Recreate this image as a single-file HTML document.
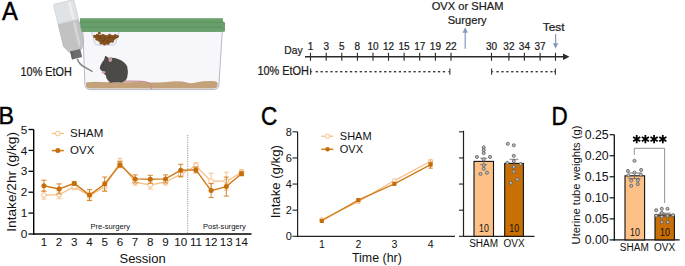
<!DOCTYPE html>
<html><head><meta charset="utf-8"><style>
html,body{margin:0;padding:0;background:#fff;width:685px;height:266px;overflow:hidden}
svg{display:block}
text{font-family:"Liberation Sans", sans-serif}
.pa text{stroke:#1a1a1a;stroke-width:0.22px}
</style></head><body>
<svg width="685" height="266" viewBox="0 0 685 266" font-family='"Liberation Sans", sans-serif'>
<g class="pa">
<text x="2.1" y="20" font-size="25" fill="#000" style="stroke:#000;stroke-width:0.45px" textLength="15.9" lengthAdjust="spacingAndGlyphs">A</text>
<path d="M82.8 31 L84.9 84.6 Q85.2 89.6 90.2 89.6 L213.8 89.6 Q218.6 89.6 218.9 84.6 L222.3 31 Z" fill="#f7f7fb" stroke="#a9b3c5" stroke-width="0.9"/>
<path d="M86 82.6 Q92 81.6 100 81.9 Q112 82.6 125 82.3 Q140 81.7 152 82.4 Q162 82.7 172 81.4 Q182 81 188 82.8 Q192 83.7 197 82.2 Q203 81 212 81.1 Q217.2 81.1 217.6 83.2 L217.6 85.5 Q217.3 88.4 213.5 88.4 L90 88.4 Q86.2 88.4 86 85.5 Z" fill="#c3a17a"/>
<path d="M91.2 31 L119.4 31 L115.5 43.5 Q115 45 113.5 45 L97 45 Q95.5 45 95 43.5 Z" fill="#eef1f7" stroke="#b8c2d4" stroke-width="0.8"/>
<path d="M93.8 35.6 Q96 34.2 99 35 Q103 34 107 35.2 Q111 34.4 114.5 35.4 Q117.5 35 118.6 36.6 Q118 38.6 115.5 39 Q113.5 41.5 111 42.6 Q108 44.8 104.5 44.6 Q101.5 44.4 99.5 42.2 Q96.5 40.4 95.5 38.6 Q93.2 37.8 93.8 35.6 Z" fill="#83501f"/>
<circle cx="99.3" cy="32.9" r="1.5" fill="#83501f"/>
<circle cx="94.6" cy="36.3" r="1.5" fill="#83501f"/>
<circle cx="97.3" cy="35.2" r="1.4" fill="#83501f"/>
<circle cx="117.6" cy="36.4" r="1.4" fill="#83501f"/>
<circle cx="115.2" cy="35.2" r="1.3" fill="#83501f"/>
<circle cx="103" cy="35.4" r="1.3" fill="#83501f"/>
<circle cx="109.5" cy="35.1" r="1.3" fill="#83501f"/>
<circle cx="101" cy="43.2" r="1.3" fill="#83501f"/>
<circle cx="108" cy="43.6" r="1.4" fill="#83501f"/>
<circle cx="104.5" cy="44.3" r="1.3" fill="#83501f"/>
<circle cx="112.5" cy="41.4" r="1.3" fill="#83501f"/>
<circle cx="96.8" cy="39.3" r="1.3" fill="#83501f"/>
<circle cx="100.5" cy="37.5" r="0.9" fill="#6f4018"/>
<circle cx="105" cy="38.5" r="0.9" fill="#6f4018"/>
<circle cx="109.6" cy="37.4" r="0.9" fill="#6f4018"/>
<circle cx="103" cy="41" r="0.9" fill="#6f4018"/>
<circle cx="107.4" cy="41.2" r="0.9" fill="#6f4018"/>
<circle cx="113.5" cy="37.8" r="0.9" fill="#6f4018"/>
<circle cx="98.2" cy="36.2" r="0.9" fill="#6f4018"/>
<rect x="80" y="18.2" width="142.9" height="4" fill="#69a06c"/>
<rect x="79.3" y="22" width="145.7" height="9.7" rx="1.2" fill="#679e6a"/>
<rect x="80" y="27.2" width="142.9" height="4.5" fill="#69a06c"/>
<rect x="80" y="21.6" width="144" height="0.9" fill="#5a9160"/>
<rect x="80" y="26.9" width="142.6" height="0.9" fill="#5a9160"/>
<path d="M124 81.2 Q134 80.8 142 81.4 Q149 82 150.5 84.5 Q151.5 86.5 151.6 89.2" fill="none" stroke="#c38f90" stroke-width="1.3"/>
<path d="M105.4 55.8 Q107.2 56.6 108.6 58 Q113.5 57.2 118 59 Q124.5 61 127.2 66.5 Q128.6 72 127.3 77 Q126.2 81.2 122 82.3 L111.2 82.4 Q108 81.6 106.6 78.6 Q106 76.6 105.8 75.2 Q103.6 74.2 102.6 71.6 Q100.6 70.4 99.8 68.4 Q99.8 66.2 101.2 64 Q102.6 61.2 104.2 59.6 Q104.6 57.2 105.4 55.8 Z" fill="#4c4949"/>
<path d="M108.3 58.3 Q109.8 56.4 111.8 57.4 Q112.8 59.6 111.2 61.8 Q109.6 62.6 108.8 61.2 Z" fill="#c89b9a"/>
<ellipse cx="103.6" cy="72.2" rx="1.8" ry="1.2" fill="#d6a7a6"/>
<path d="M100 67.5 L98.6 67.4 M100 68.2 L98.8 69" stroke="#ddd" stroke-width="0.3"/>
<circle cx="103.6" cy="64.2" r="0.55" fill="#1f1d1d"/>
<path d="M108 82.3 Q110 80.6 112.5 82.4 Z M119 82.3 Q121.5 80.6 124 82.3 Z" fill="#3e3b3b"/>
<g transform="translate(63.6 2.0) rotate(-13.5)">
<path d="M-10.5 1.8 Q-10.5 0 -8.7 0 L8.7 0 Q10.5 0 10.5 1.8 L10.5 21 L-10.5 21 Z" fill="#dfe3e6" stroke="#c4c9cd" stroke-width="0.6"/>
<rect x="4.2" y="1" width="2.6" height="19" fill="#ecefF1"/>
<path d="M-10.5 21 L10.5 21 L10.5 43 L6.5 50 L-6.5 50 L-10.5 43 Z" fill="#c2c2c2" stroke="#adadad" stroke-width="0.6"/>
<path d="M4.2 22 L6.8 22 L6.8 44 L4.8 48 L4.2 48 Z" fill="#d5d5d5"/>
<rect x="-10.5" y="19.6" width="21" height="1.6" fill="#cdd1d4"/>
<rect x="-5.2" y="49.6" width="10.4" height="8.2" fill="#6d6d6d"/>
<rect x="-5.2" y="49.6" width="2.4" height="8.2" fill="#646464"/>
</g>
<path d="M77.3 58.8 Q78.6 63.6 82.6 66 L92.6 71.6" fill="none" stroke="#8a8a8a" stroke-width="1.5"/>
<text x="20.6" y="75.7" font-size="12" fill="#1a1a1a" textLength="51.2" lengthAdjust="spacingAndGlyphs">10% EtOH</text>
<text x="302.6" y="53.7" font-size="11.2" fill="#222" text-anchor="end" textLength="18.3" lengthAdjust="spacingAndGlyphs">Day</text>
<line x1="305" y1="56.8" x2="564" y2="56.8" stroke="#2a2a2a" stroke-width="1.6"/>
<path d="M563 53.6 L569.5 56.8 L563 60 Z" fill="#2a2a2a"/>
<line x1="310.5" y1="52.8" x2="310.5" y2="60.8" stroke="#2a2a2a" stroke-width="1.1"/>
<text x="310.5" y="49.8" font-size="10" fill="#222" text-anchor="middle">1</text>
<line x1="326.2" y1="52.8" x2="326.2" y2="60.8" stroke="#2a2a2a" stroke-width="1.1"/>
<text x="326.2" y="49.8" font-size="10" fill="#222" text-anchor="middle">3</text>
<line x1="341.8" y1="52.8" x2="341.8" y2="60.8" stroke="#2a2a2a" stroke-width="1.1"/>
<text x="341.8" y="49.8" font-size="10" fill="#222" text-anchor="middle">5</text>
<line x1="357.4" y1="52.8" x2="357.4" y2="60.8" stroke="#2a2a2a" stroke-width="1.1"/>
<text x="357.4" y="49.8" font-size="10" fill="#222" text-anchor="middle">8</text>
<line x1="373" y1="52.8" x2="373" y2="60.8" stroke="#2a2a2a" stroke-width="1.1"/>
<text x="373" y="49.8" font-size="10" fill="#222" text-anchor="middle">10</text>
<line x1="388.5" y1="52.8" x2="388.5" y2="60.8" stroke="#2a2a2a" stroke-width="1.1"/>
<text x="388.5" y="49.8" font-size="10" fill="#222" text-anchor="middle">12</text>
<line x1="404.1" y1="52.8" x2="404.1" y2="60.8" stroke="#2a2a2a" stroke-width="1.1"/>
<text x="404.1" y="49.8" font-size="10" fill="#222" text-anchor="middle">15</text>
<line x1="419.7" y1="52.8" x2="419.7" y2="60.8" stroke="#2a2a2a" stroke-width="1.1"/>
<text x="419.7" y="49.8" font-size="10" fill="#222" text-anchor="middle">17</text>
<line x1="435.4" y1="52.8" x2="435.4" y2="60.8" stroke="#2a2a2a" stroke-width="1.1"/>
<text x="435.4" y="49.8" font-size="10" fill="#222" text-anchor="middle">19</text>
<line x1="451.0" y1="52.8" x2="451.0" y2="60.8" stroke="#2a2a2a" stroke-width="1.1"/>
<text x="451.0" y="49.8" font-size="10" fill="#222" text-anchor="middle">22</text>
<line x1="491.5" y1="52.8" x2="491.5" y2="60.8" stroke="#2a2a2a" stroke-width="1.1"/>
<text x="491.5" y="49.8" font-size="10" fill="#222" text-anchor="middle">30</text>
<line x1="508.9" y1="52.8" x2="508.9" y2="60.8" stroke="#2a2a2a" stroke-width="1.1"/>
<text x="508.9" y="49.8" font-size="10" fill="#222" text-anchor="middle">32</text>
<line x1="524.4" y1="52.8" x2="524.4" y2="60.8" stroke="#2a2a2a" stroke-width="1.1"/>
<text x="524.4" y="49.8" font-size="10" fill="#222" text-anchor="middle">34</text>
<line x1="540.1" y1="52.8" x2="540.1" y2="60.8" stroke="#2a2a2a" stroke-width="1.1"/>
<text x="540.1" y="49.8" font-size="10" fill="#222" text-anchor="middle">37</text>
<line x1="555.5" y1="52.8" x2="555.5" y2="60.8" stroke="#2a2a2a" stroke-width="1.1"/>
<line x1="310.6" y1="68.5" x2="310.6" y2="74.7" stroke="#333" stroke-width="1.1"/>
<line x1="449.9" y1="68.5" x2="449.9" y2="74.7" stroke="#333" stroke-width="1.1"/>
<rect x="310.6" y="71.1" width="1.6" height="1.2" fill="#444"/>
<rect x="448.29999999999995" y="71.1" width="1.6" height="1.2" fill="#444"/>
<rect x="315.65" y="71.0" width="2.3" height="1.4" fill="#3a3a3a"/>
<rect x="320.54" y="71.0" width="2.3" height="1.4" fill="#3a3a3a"/>
<rect x="325.43" y="71.0" width="2.3" height="1.4" fill="#3a3a3a"/>
<rect x="330.32" y="71.0" width="2.3" height="1.4" fill="#3a3a3a"/>
<rect x="335.21" y="71.0" width="2.3" height="1.4" fill="#3a3a3a"/>
<rect x="340.10" y="71.0" width="2.3" height="1.4" fill="#3a3a3a"/>
<rect x="344.99" y="71.0" width="2.3" height="1.4" fill="#3a3a3a"/>
<rect x="349.88" y="71.0" width="2.3" height="1.4" fill="#3a3a3a"/>
<rect x="354.77" y="71.0" width="2.3" height="1.4" fill="#3a3a3a"/>
<rect x="359.66" y="71.0" width="2.3" height="1.4" fill="#3a3a3a"/>
<rect x="364.55" y="71.0" width="2.3" height="1.4" fill="#3a3a3a"/>
<rect x="369.44" y="71.0" width="2.3" height="1.4" fill="#3a3a3a"/>
<rect x="374.33" y="71.0" width="2.3" height="1.4" fill="#3a3a3a"/>
<rect x="379.22" y="71.0" width="2.3" height="1.4" fill="#3a3a3a"/>
<rect x="384.11" y="71.0" width="2.3" height="1.4" fill="#3a3a3a"/>
<rect x="389.00" y="71.0" width="2.3" height="1.4" fill="#3a3a3a"/>
<rect x="393.89" y="71.0" width="2.3" height="1.4" fill="#3a3a3a"/>
<rect x="398.78" y="71.0" width="2.3" height="1.4" fill="#3a3a3a"/>
<rect x="403.67" y="71.0" width="2.3" height="1.4" fill="#3a3a3a"/>
<rect x="408.56" y="71.0" width="2.3" height="1.4" fill="#3a3a3a"/>
<rect x="413.45" y="71.0" width="2.3" height="1.4" fill="#3a3a3a"/>
<rect x="418.34" y="71.0" width="2.3" height="1.4" fill="#3a3a3a"/>
<rect x="423.23" y="71.0" width="2.3" height="1.4" fill="#3a3a3a"/>
<rect x="428.12" y="71.0" width="2.3" height="1.4" fill="#3a3a3a"/>
<rect x="433.01" y="71.0" width="2.3" height="1.4" fill="#3a3a3a"/>
<rect x="437.90" y="71.0" width="2.3" height="1.4" fill="#3a3a3a"/>
<rect x="442.79" y="71.0" width="2.3" height="1.4" fill="#3a3a3a"/>
<line x1="491.6" y1="68.5" x2="491.6" y2="74.7" stroke="#333" stroke-width="1.1"/>
<line x1="555.4" y1="68.5" x2="555.4" y2="74.7" stroke="#333" stroke-width="1.1"/>
<rect x="491.6" y="71.1" width="1.6" height="1.2" fill="#444"/>
<rect x="553.8" y="71.1" width="1.6" height="1.2" fill="#444"/>
<rect x="496.45" y="71.0" width="2.3" height="1.4" fill="#3a3a3a"/>
<rect x="501.34" y="71.0" width="2.3" height="1.4" fill="#3a3a3a"/>
<rect x="506.23" y="71.0" width="2.3" height="1.4" fill="#3a3a3a"/>
<rect x="511.12" y="71.0" width="2.3" height="1.4" fill="#3a3a3a"/>
<rect x="516.01" y="71.0" width="2.3" height="1.4" fill="#3a3a3a"/>
<rect x="520.90" y="71.0" width="2.3" height="1.4" fill="#3a3a3a"/>
<rect x="525.79" y="71.0" width="2.3" height="1.4" fill="#3a3a3a"/>
<rect x="530.68" y="71.0" width="2.3" height="1.4" fill="#3a3a3a"/>
<rect x="535.57" y="71.0" width="2.3" height="1.4" fill="#3a3a3a"/>
<rect x="540.46" y="71.0" width="2.3" height="1.4" fill="#3a3a3a"/>
<rect x="545.35" y="71.0" width="2.3" height="1.4" fill="#3a3a3a"/>
<rect x="550.24" y="71.0" width="2.3" height="1.4" fill="#3a3a3a"/>
<text x="257.4" y="75.3" font-size="12" fill="#1a1a1a" textLength="51.6" lengthAdjust="spacingAndGlyphs">10% EtOH</text>
<text x="467.6" y="10.4" font-size="11.4" fill="#222" text-anchor="middle" textLength="71.8" lengthAdjust="spacingAndGlyphs">OVX or SHAM</text>
<text x="467.2" y="24" font-size="11.4" fill="#222" text-anchor="middle" textLength="39" lengthAdjust="spacingAndGlyphs">Surgery</text>
<line x1="465.2" y1="31" x2="465.2" y2="48.7" stroke="#8797c4" stroke-width="1.2"/>
<path d="M462.5 32.8 L465.2 27.3 L467.9 32.8 Z" fill="#8797c4"/>
<text x="553.7" y="31.2" font-size="11.4" fill="#222" text-anchor="middle" textLength="21.8" lengthAdjust="spacingAndGlyphs">Test</text>
<line x1="555.6" y1="34" x2="555.6" y2="45" stroke="#8797c4" stroke-width="1.2"/>
<path d="M552.9 43.3 L555.6 48.7 L558.3 43.3 Z" fill="#8797c4"/>
</g>
<text x="-1.6" y="124.2" font-size="24.5" fill="#000" stroke="#000" stroke-width="0.45" textLength="15.5" lengthAdjust="spacingAndGlyphs">B</text>
<line x1="33.7" y1="129.5" x2="33.7" y2="234.7" stroke="#000" stroke-width="1.4"/>
<line x1="28.5" y1="234.0" x2="33.7" y2="234.0" stroke="#000" stroke-width="1.3"/>
<text x="27.4" y="238.1" font-size="11.8" text-anchor="end" fill="#111">0</text>
<line x1="28.5" y1="213.1" x2="33.7" y2="213.1" stroke="#000" stroke-width="1.3"/>
<text x="27.4" y="217.2" font-size="11.8" text-anchor="end" fill="#111">1</text>
<line x1="28.5" y1="192.2" x2="33.7" y2="192.2" stroke="#000" stroke-width="1.3"/>
<text x="27.4" y="196.29999999999998" font-size="11.8" text-anchor="end" fill="#111">2</text>
<line x1="28.5" y1="171.3" x2="33.7" y2="171.3" stroke="#000" stroke-width="1.3"/>
<text x="27.4" y="175.4" font-size="11.8" text-anchor="end" fill="#111">3</text>
<line x1="28.5" y1="150.4" x2="33.7" y2="150.4" stroke="#000" stroke-width="1.3"/>
<text x="27.4" y="154.5" font-size="11.8" text-anchor="end" fill="#111">4</text>
<line x1="28.5" y1="129.5" x2="33.7" y2="129.5" stroke="#000" stroke-width="1.3"/>
<text x="27.4" y="133.6" font-size="11.8" text-anchor="end" fill="#111">5</text>
<line x1="33" y1="234.0" x2="251.5" y2="234.0" stroke="#000" stroke-width="1.4"/>
<text x="43.9" y="246.3" font-size="11.6" text-anchor="middle" fill="#111">1</text>
<text x="59.1" y="246.3" font-size="11.6" text-anchor="middle" fill="#111">2</text>
<text x="74.3" y="246.3" font-size="11.6" text-anchor="middle" fill="#111">3</text>
<text x="89.5" y="246.3" font-size="11.6" text-anchor="middle" fill="#111">4</text>
<text x="104.7" y="246.3" font-size="11.6" text-anchor="middle" fill="#111">5</text>
<text x="119.9" y="246.3" font-size="11.6" text-anchor="middle" fill="#111">6</text>
<text x="135.1" y="246.3" font-size="11.6" text-anchor="middle" fill="#111">7</text>
<text x="150.3" y="246.3" font-size="11.6" text-anchor="middle" fill="#111">8</text>
<text x="165.5" y="246.3" font-size="11.6" text-anchor="middle" fill="#111">9</text>
<text x="180.7" y="246.3" font-size="11.6" text-anchor="middle" fill="#111">10</text>
<text x="195.9" y="246.3" font-size="11.6" text-anchor="middle" fill="#111">11</text>
<text x="211.1" y="246.3" font-size="11.6" text-anchor="middle" fill="#111">12</text>
<text x="226.3" y="246.3" font-size="11.6" text-anchor="middle" fill="#111">13</text>
<text x="241.5" y="246.3" font-size="11.6" text-anchor="middle" fill="#111">14</text>
<text x="142.6" y="263" font-size="13" text-anchor="middle" fill="#111">Session</text>
<text transform="translate(16.4 181.9) rotate(-90)" font-size="13.7" text-anchor="middle" fill="#111">Intake/2hr (g/kg)</text>
<text x="110.3" y="229.3" font-size="7.6" text-anchor="middle" fill="#111">Pre-surgery</text>
<text x="224.4" y="229.3" font-size="7.6" text-anchor="middle" fill="#111">Post-surgery</text>
<line x1="187.7" y1="135" x2="187.7" y2="234" stroke="#8a8a8a" stroke-width="0.9" stroke-dasharray="1.1 1.1"/>
<path d="M43.9 191.1 L43.9 199.1 M41.3 191.1 L46.5 191.1 M41.3 199.1 L46.5 199.1" stroke="#F7BE86" stroke-width="0.9" fill="none"/>
<path d="M59.099999999999994 190.7 L59.099999999999994 198.7 M56.49999999999999 190.7 L61.699999999999996 190.7 M56.49999999999999 198.7 L61.699999999999996 198.7" stroke="#F7BE86" stroke-width="0.9" fill="none"/>
<path d="M74.3 183.6 L74.3 189.6 M71.7 183.6 L76.89999999999999 183.6 M71.7 189.6 L76.89999999999999 189.6" stroke="#F7BE86" stroke-width="0.9" fill="none"/>
<path d="M89.5 192.0 L89.5 200.0 M86.9 192.0 L92.1 192.0 M86.9 200.0 L92.1 200.0" stroke="#F7BE86" stroke-width="0.9" fill="none"/>
<path d="M104.69999999999999 181.5 L104.69999999999999 191.5 M102.1 181.5 L107.29999999999998 181.5 M102.1 191.5 L107.29999999999998 191.5" stroke="#F7BE86" stroke-width="0.9" fill="none"/>
<path d="M119.9 158.4 L119.9 166.4 M117.30000000000001 158.4 L122.5 158.4 M117.30000000000001 166.4 L122.5 166.4" stroke="#F7BE86" stroke-width="0.9" fill="none"/>
<path d="M135.1 179.1 L135.1 185.1 M132.5 179.1 L137.7 179.1 M132.5 185.1 L137.7 185.1" stroke="#F7BE86" stroke-width="0.9" fill="none"/>
<path d="M150.29999999999998 181.0 L150.29999999999998 189.0 M147.7 181.0 L152.89999999999998 181.0 M147.7 189.0 L152.89999999999998 189.0" stroke="#F7BE86" stroke-width="0.9" fill="none"/>
<path d="M165.5 179.0 L165.5 185.0 M162.9 179.0 L168.1 179.0 M162.9 185.0 L168.1 185.0" stroke="#F7BE86" stroke-width="0.9" fill="none"/>
<path d="M180.7 171.4 L180.7 177.4 M178.1 171.4 L183.29999999999998 171.4 M178.1 177.4 L183.29999999999998 177.4" stroke="#F7BE86" stroke-width="0.9" fill="none"/>
<path d="M195.9 162.8 L195.9 168.8 M193.3 162.8 L198.5 162.8 M193.3 168.8 L198.5 168.8" stroke="#F7BE86" stroke-width="0.9" fill="none"/>
<path d="M211.1 173.2 L211.1 189.2 M208.5 173.2 L213.7 173.2 M208.5 189.2 L213.7 189.2" stroke="#F7BE86" stroke-width="0.9" fill="none"/>
<path d="M226.29999999999998 172.2 L226.29999999999998 190.2 M223.7 172.2 L228.89999999999998 172.2 M223.7 190.2 L228.89999999999998 190.2" stroke="#F7BE86" stroke-width="0.9" fill="none"/>
<path d="M241.5 169.6 L241.5 175.6 M238.9 169.6 L244.1 169.6 M238.9 175.6 L244.1 175.6" stroke="#F7BE86" stroke-width="0.9" fill="none"/>
<polyline points="43.9,195.1 59.1,194.7 74.3,186.6 89.5,196.0 104.7,186.5 119.9,162.4 135.1,182.1 150.3,185.0 165.5,182.0 180.7,174.4 195.9,165.8 211.1,181.2 226.3,181.2 241.5,172.6" fill="none" stroke="#F7BE86" stroke-width="1.3"/>
<circle cx="43.9" cy="195.1" r="2.4" fill="#fff" stroke="#F7BE86" stroke-width="1"/>
<circle cx="59.099999999999994" cy="194.7" r="2.4" fill="#fff" stroke="#F7BE86" stroke-width="1"/>
<circle cx="74.3" cy="186.6" r="2.4" fill="#fff" stroke="#F7BE86" stroke-width="1"/>
<circle cx="89.5" cy="196.0" r="2.4" fill="#fff" stroke="#F7BE86" stroke-width="1"/>
<circle cx="104.69999999999999" cy="186.5" r="2.4" fill="#fff" stroke="#F7BE86" stroke-width="1"/>
<circle cx="119.9" cy="162.4" r="2.4" fill="#fff" stroke="#F7BE86" stroke-width="1"/>
<circle cx="135.1" cy="182.1" r="2.4" fill="#fff" stroke="#F7BE86" stroke-width="1"/>
<circle cx="150.29999999999998" cy="185.0" r="2.4" fill="#fff" stroke="#F7BE86" stroke-width="1"/>
<circle cx="165.5" cy="182.0" r="2.4" fill="#fff" stroke="#F7BE86" stroke-width="1"/>
<circle cx="180.7" cy="174.4" r="2.4" fill="#fff" stroke="#F7BE86" stroke-width="1"/>
<circle cx="195.9" cy="165.8" r="2.4" fill="#fff" stroke="#F7BE86" stroke-width="1"/>
<circle cx="211.1" cy="181.2" r="2.4" fill="#fff" stroke="#F7BE86" stroke-width="1"/>
<circle cx="226.29999999999998" cy="181.2" r="2.4" fill="#fff" stroke="#F7BE86" stroke-width="1"/>
<circle cx="241.5" cy="172.6" r="2.4" fill="#fff" stroke="#F7BE86" stroke-width="1"/>
<path d="M43.9 180.2 L43.9 191.2 M41.3 180.2 L46.5 180.2 M41.3 191.2 L46.5 191.2" stroke="#D07A18" stroke-width="0.9" fill="none"/>
<path d="M59.099999999999994 183.9 L59.099999999999994 193.9 M56.49999999999999 183.9 L61.699999999999996 183.9 M56.49999999999999 193.9 L61.699999999999996 193.9" stroke="#D07A18" stroke-width="0.9" fill="none"/>
<path d="M74.3 181.4 L74.3 185.4 M71.7 181.4 L76.89999999999999 181.4 M71.7 185.4 L76.89999999999999 185.4" stroke="#D07A18" stroke-width="0.9" fill="none"/>
<path d="M89.5 189.6 L89.5 200.6 M86.9 189.6 L92.1 189.6 M86.9 200.6 L92.1 200.6" stroke="#D07A18" stroke-width="0.9" fill="none"/>
<path d="M104.69999999999999 177.0 L104.69999999999999 191.0 M102.1 177.0 L107.29999999999998 177.0 M102.1 191.0 L107.29999999999998 191.0" stroke="#D07A18" stroke-width="0.9" fill="none"/>
<path d="M119.9 161.7 L119.9 167.7 M117.30000000000001 161.7 L122.5 161.7 M117.30000000000001 167.7 L122.5 167.7" stroke="#D07A18" stroke-width="0.9" fill="none"/>
<path d="M135.1 174.9 L135.1 182.9 M132.5 174.9 L137.7 174.9 M132.5 182.9 L137.7 182.9" stroke="#D07A18" stroke-width="0.9" fill="none"/>
<path d="M150.29999999999998 175.3 L150.29999999999998 183.3 M147.7 175.3 L152.89999999999998 175.3 M147.7 183.3 L152.89999999999998 183.3" stroke="#D07A18" stroke-width="0.9" fill="none"/>
<path d="M165.5 174.9 L165.5 182.9 M162.9 174.9 L168.1 174.9 M162.9 182.9 L168.1 182.9" stroke="#D07A18" stroke-width="0.9" fill="none"/>
<path d="M180.7 164.3 L180.7 176.3 M178.1 164.3 L183.29999999999998 164.3 M178.1 176.3 L183.29999999999998 176.3" stroke="#D07A18" stroke-width="0.9" fill="none"/>
<path d="M195.9 166.9 L195.9 172.9 M193.3 166.9 L198.5 166.9 M193.3 172.9 L198.5 172.9" stroke="#D07A18" stroke-width="0.9" fill="none"/>
<path d="M211.1 183.6 L211.1 197.6 M208.5 183.6 L213.7 183.6 M208.5 197.6 L213.7 197.6" stroke="#D07A18" stroke-width="0.9" fill="none"/>
<path d="M226.29999999999998 177.1 L226.29999999999998 196.1 M223.7 177.1 L228.89999999999998 177.1 M223.7 196.1 L228.89999999999998 196.1" stroke="#D07A18" stroke-width="0.9" fill="none"/>
<path d="M241.5 171.7 L241.5 175.7 M238.9 171.7 L244.1 171.7 M238.9 175.7 L244.1 175.7" stroke="#D07A18" stroke-width="0.9" fill="none"/>
<polyline points="43.9,185.7 59.1,188.9 74.3,183.4 89.5,195.1 104.7,184.0 119.9,164.7 135.1,178.9 150.3,179.3 165.5,178.9 180.7,170.3 195.9,169.9 211.1,190.6 226.3,186.6 241.5,173.7" fill="none" stroke="#D07A18" stroke-width="1.4"/>
<circle cx="43.9" cy="185.7" r="2.5" fill="#C46E0C"/>
<circle cx="59.099999999999994" cy="188.9" r="2.5" fill="#C46E0C"/>
<circle cx="74.3" cy="183.4" r="2.5" fill="#C46E0C"/>
<circle cx="89.5" cy="195.1" r="2.5" fill="#C46E0C"/>
<circle cx="104.69999999999999" cy="184.0" r="2.5" fill="#C46E0C"/>
<circle cx="119.9" cy="164.7" r="2.5" fill="#C46E0C"/>
<circle cx="135.1" cy="178.9" r="2.5" fill="#C46E0C"/>
<circle cx="150.29999999999998" cy="179.3" r="2.5" fill="#C46E0C"/>
<circle cx="165.5" cy="178.9" r="2.5" fill="#C46E0C"/>
<circle cx="180.7" cy="170.3" r="2.5" fill="#C46E0C"/>
<circle cx="195.9" cy="169.9" r="2.5" fill="#C46E0C"/>
<circle cx="211.1" cy="190.6" r="2.5" fill="#C46E0C"/>
<circle cx="226.29999999999998" cy="186.6" r="2.5" fill="#C46E0C"/>
<circle cx="241.5" cy="173.7" r="2.5" fill="#C46E0C"/>
<line x1="51.7" y1="133.5" x2="63.8" y2="133.5" stroke="#F7BE86" stroke-width="1.3"/>
<circle cx="57.8" cy="133.5" r="2.4" fill="#fff" stroke="#F7BE86" stroke-width="1"/>
<line x1="51.7" y1="150.6" x2="63.8" y2="150.6" stroke="#D07A18" stroke-width="1.5"/>
<circle cx="57.8" cy="150.6" r="2.5" fill="#C46E0C"/>
<text x="70.1" y="137.4" font-size="11.5" fill="#111">SHAM</text>
<text x="70.1" y="154.4" font-size="11.5" fill="#111">OVX</text>
<text x="261.0" y="124.8" font-size="25" fill="#000" stroke="#000" stroke-width="0.45" textLength="16.3" lengthAdjust="spacingAndGlyphs">C</text>
<line x1="297.6" y1="131.82" x2="297.6" y2="236.9" stroke="#222" stroke-width="1.2"/>
<line x1="292.5" y1="236.3" x2="297.6" y2="236.3" stroke="#222" stroke-width="1.1"/>
<text x="291.8" y="240.10000000000002" font-size="11" text-anchor="end" fill="#111">0</text>
<line x1="292.5" y1="210.18" x2="297.6" y2="210.18" stroke="#222" stroke-width="1.1"/>
<text x="291.8" y="213.98000000000002" font-size="11" text-anchor="end" fill="#111">2</text>
<line x1="292.5" y1="184.06" x2="297.6" y2="184.06" stroke="#222" stroke-width="1.1"/>
<text x="291.8" y="187.86" font-size="11" text-anchor="end" fill="#111">4</text>
<line x1="292.5" y1="157.94" x2="297.6" y2="157.94" stroke="#222" stroke-width="1.1"/>
<text x="291.8" y="161.74" font-size="11" text-anchor="end" fill="#111">6</text>
<line x1="292.5" y1="131.82" x2="297.6" y2="131.82" stroke="#222" stroke-width="1.1"/>
<text x="291.8" y="135.62" font-size="11" text-anchor="end" fill="#111">8</text>
<line x1="297" y1="236.3" x2="455" y2="236.3" stroke="#222" stroke-width="1.2"/>
<text x="321.8" y="247.8" font-size="10.5" text-anchor="middle" fill="#111">1</text>
<text x="358.3" y="247.8" font-size="10.5" text-anchor="middle" fill="#111">2</text>
<text x="394.4" y="247.8" font-size="10.5" text-anchor="middle" fill="#111">3</text>
<text x="430.6" y="247.8" font-size="10.5" text-anchor="middle" fill="#111">4</text>
<text x="376.9" y="262.2" font-size="12.4" text-anchor="middle" fill="#111">Time (hr)</text>
<text transform="translate(279.8 181.7) rotate(-90)" font-size="13.2" text-anchor="middle" fill="#111">Intake (g/kg)</text>
<polyline points="321.8,219.6 358.3,201.6 394.4,180.6 430.6,161.2" fill="none" stroke="#F7BE86" stroke-width="1.2"/>
<circle cx="321.8" cy="219.6" r="2.0" fill="#fff" stroke="#F7BE86" stroke-width="1"/>
<circle cx="358.3" cy="201.6" r="2.0" fill="#fff" stroke="#F7BE86" stroke-width="1"/>
<circle cx="394.4" cy="180.6" r="2.0" fill="#fff" stroke="#F7BE86" stroke-width="1"/>
<circle cx="430.6" cy="161.2" r="2.0" fill="#fff" stroke="#F7BE86" stroke-width="1"/>
<path d="M430.6 160.0 L430.6 164.39999999999998 M428.40000000000003 160.0 L432.8 160.0 M428.40000000000003 164.39999999999998 L432.8 164.39999999999998" stroke="#F7BE86" stroke-width="0.9" fill="none"/>
<path d="M430.6 162.2 L430.6 168.2 M428.40000000000003 162.2 L432.8 162.2 M428.40000000000003 168.2 L432.8 168.2" stroke="#D07A18" stroke-width="0.9" fill="none"/>
<polyline points="321.8,220.8 358.3,200.1 394.4,183.8 430.6,164.6" fill="none" stroke="#D07A18" stroke-width="1.3"/>
<rect x="319.7" y="218.70000000000002" width="4.2" height="4.2" rx="0.7" fill="#C46E0C"/>
<rect x="356.2" y="198.0" width="4.2" height="4.2" rx="0.7" fill="#C46E0C"/>
<rect x="392.29999999999995" y="181.70000000000002" width="4.2" height="4.2" rx="0.7" fill="#C46E0C"/>
<rect x="428.5" y="162.5" width="4.2" height="4.2" rx="0.7" fill="#C46E0C"/>
<line x1="321.3" y1="136.2" x2="333.3" y2="136.2" stroke="#F7BE86" stroke-width="1.2"/>
<circle cx="327.6" cy="136.2" r="2.1" fill="#fff" stroke="#F7BE86" stroke-width="1"/>
<line x1="321.3" y1="149.3" x2="333.3" y2="149.3" stroke="#D07A18" stroke-width="1.4"/>
<circle cx="327.6" cy="149.3" r="2.3" fill="#C46E0C"/>
<text x="339.8" y="140" font-size="11" fill="#111">SHAM</text>
<text x="339.8" y="153.1" font-size="11" fill="#111">OVX</text>
<line x1="463.5" y1="130.7" x2="463.5" y2="236.9" stroke="#222" stroke-width="1.2"/>
<line x1="459" y1="236.3" x2="463.5" y2="236.3" stroke="#222" stroke-width="1.1"/>
<line x1="459" y1="210.18" x2="463.5" y2="210.18" stroke="#222" stroke-width="1.1"/>
<line x1="459" y1="184.06" x2="463.5" y2="184.06" stroke="#222" stroke-width="1.1"/>
<line x1="459" y1="157.94" x2="463.5" y2="157.94" stroke="#222" stroke-width="1.1"/>
<line x1="459" y1="131.82" x2="463.5" y2="131.82" stroke="#222" stroke-width="1.1"/>
<line x1="463" y1="236.3" x2="534.5" y2="236.3" stroke="#222" stroke-width="1.2"/>
<rect x="474" y="161.4" width="19.5" height="74.9" fill="#FDC086" stroke="#111" stroke-width="1.1"/>
<rect x="504.7" y="163.4" width="18.7" height="72.9" fill="#C86F06" stroke="#111" stroke-width="1.1"/>
<text x="483.9" y="232" font-size="10.3" text-anchor="middle" fill="#111" textLength="9.8" lengthAdjust="spacingAndGlyphs">10</text>
<text x="514.2" y="232" font-size="10.3" text-anchor="middle" fill="#111" textLength="9.8" lengthAdjust="spacingAndGlyphs">10</text>
<text x="483.6" y="246.5" font-size="10" text-anchor="middle" fill="#111">SHAM</text>
<text x="514" y="246.5" font-size="10" text-anchor="middle" fill="#111">OVX</text>
<path d="M483.7 158.20000000000002 L483.7 164.6 M480.2 158.20000000000002 L487.2 158.20000000000002 M480.2 164.6 L487.2 164.6" stroke="#777" stroke-width="0.9" fill="none"/>
<path d="M514 159.3 L514 167.5 M509.5 159.3 L518.5 159.3 M509.5 167.5 L518.5 167.5" stroke="#777" stroke-width="0.9" fill="none"/>
<circle cx="483.7" cy="147.4" r="1.55" fill="#bdbdbd" stroke="#5a5a5a" stroke-width="0.8"/>
<circle cx="483.7" cy="150.2" r="1.55" fill="#bdbdbd" stroke="#5a5a5a" stroke-width="0.8"/>
<circle cx="483.7" cy="153.1" r="1.55" fill="#bdbdbd" stroke="#5a5a5a" stroke-width="0.8"/>
<circle cx="476.9" cy="156.9" r="1.55" fill="#bdbdbd" stroke="#5a5a5a" stroke-width="0.8"/>
<circle cx="490" cy="156.9" r="1.55" fill="#bdbdbd" stroke="#5a5a5a" stroke-width="0.8"/>
<circle cx="483.7" cy="159.4" r="1.55" fill="#bdbdbd" stroke="#5a5a5a" stroke-width="0.8"/>
<circle cx="483.7" cy="165.3" r="1.55" fill="#bdbdbd" stroke="#5a5a5a" stroke-width="0.8"/>
<circle cx="483.7" cy="168.7" r="1.55" fill="#bdbdbd" stroke="#5a5a5a" stroke-width="0.8"/>
<circle cx="480.5" cy="173.9" r="1.55" fill="#bdbdbd" stroke="#5a5a5a" stroke-width="0.8"/>
<circle cx="487" cy="172.7" r="1.55" fill="#bdbdbd" stroke="#5a5a5a" stroke-width="0.8"/>
<circle cx="507.8" cy="143.8" r="1.55" fill="#bdbdbd" stroke="#5a5a5a" stroke-width="0.8"/>
<circle cx="513.8" cy="145.3" r="1.55" fill="#bdbdbd" stroke="#5a5a5a" stroke-width="0.8"/>
<circle cx="513.8" cy="155.8" r="1.55" fill="#bdbdbd" stroke="#5a5a5a" stroke-width="0.8"/>
<circle cx="513.8" cy="161" r="1.55" fill="#bdbdbd" stroke="#5a5a5a" stroke-width="0.8"/>
<circle cx="507.3" cy="162.9" r="1.55" fill="#bdbdbd" stroke="#5a5a5a" stroke-width="0.8"/>
<circle cx="520.6" cy="164.1" r="1.55" fill="#bdbdbd" stroke="#5a5a5a" stroke-width="0.8"/>
<circle cx="513.8" cy="166.8" r="1.55" fill="#bdbdbd" stroke="#5a5a5a" stroke-width="0.8"/>
<circle cx="513.8" cy="171.6" r="1.55" fill="#bdbdbd" stroke="#5a5a5a" stroke-width="0.8"/>
<circle cx="517.3" cy="179.4" r="1.55" fill="#bdbdbd" stroke="#5a5a5a" stroke-width="0.8"/>
<circle cx="510.8" cy="182.9" r="1.55" fill="#bdbdbd" stroke="#5a5a5a" stroke-width="0.8"/>
<text x="551.6" y="124.6" font-size="25" fill="#000" stroke="#000" stroke-width="0.45" textLength="16.2" lengthAdjust="spacingAndGlyphs">D</text>
<line x1="614.3" y1="134.70000000000002" x2="614.3" y2="240.5" stroke="#111" stroke-width="1.3"/>
<line x1="609.6" y1="239.9" x2="614.3" y2="239.9" stroke="#111" stroke-width="1.2"/>
<text x="608.6" y="244.1" font-size="12.3" text-anchor="end" fill="#111">0.00</text>
<line x1="609.6" y1="218.86" x2="614.3" y2="218.86" stroke="#111" stroke-width="1.2"/>
<text x="608.6" y="223.06" font-size="12.3" text-anchor="end" fill="#111">0.05</text>
<line x1="609.6" y1="197.82" x2="614.3" y2="197.82" stroke="#111" stroke-width="1.2"/>
<text x="608.6" y="202.01999999999998" font-size="12.3" text-anchor="end" fill="#111">0.10</text>
<line x1="609.6" y1="176.78" x2="614.3" y2="176.78" stroke="#111" stroke-width="1.2"/>
<text x="608.6" y="180.98" font-size="12.3" text-anchor="end" fill="#111">0.15</text>
<line x1="609.6" y1="155.74" x2="614.3" y2="155.74" stroke="#111" stroke-width="1.2"/>
<text x="608.6" y="159.94" font-size="12.3" text-anchor="end" fill="#111">0.20</text>
<line x1="609.6" y1="134.70000000000002" x2="614.3" y2="134.70000000000002" stroke="#111" stroke-width="1.2"/>
<text x="608.6" y="138.9" font-size="12.3" text-anchor="end" fill="#111">0.25</text>
<line x1="613.6" y1="239.9" x2="679.6" y2="239.9" stroke="#111" stroke-width="1.3"/>
<rect x="625" y="175.8" width="19.6" height="64.1" fill="#FDC086" stroke="#111" stroke-width="1.1"/>
<rect x="655" y="215" width="19.4" height="24.900000000000006" fill="#C86F06" stroke="#111" stroke-width="1.1"/>
<text x="634.9" y="235.5" font-size="10.3" text-anchor="middle" fill="#111" textLength="9.8" lengthAdjust="spacingAndGlyphs">10</text>
<text x="664.9" y="235.5" font-size="10.3" text-anchor="middle" fill="#111" textLength="9.8" lengthAdjust="spacingAndGlyphs">10</text>
<text x="634.3" y="251.2" font-size="10" text-anchor="middle" fill="#111">SHAM</text>
<text x="664.6" y="251.2" font-size="10" text-anchor="middle" fill="#111">OVX</text>
<text transform="translate(580.2 185) rotate(-90)" font-size="11.2" text-anchor="middle" fill="#111">Uterine tube weights (g)</text>
<path d="M634.3 154.8 L634.3 148.3 L664.6 148.3 L664.6 203" fill="none" stroke="#888" stroke-width="0.9"/>
<path d="M636.70 134.95 L636.70 143.25 M633.11 137.03 L640.29 141.17 M633.11 141.17 L640.29 137.03 " stroke="#000" stroke-width="1.75" fill="none"/>
<path d="M645.40 134.95 L645.40 143.25 M641.81 137.03 L648.99 141.17 M641.81 141.17 L648.99 137.03 " stroke="#000" stroke-width="1.75" fill="none"/>
<path d="M654.10 134.95 L654.10 143.25 M650.51 137.03 L657.69 141.17 M650.51 141.17 L657.69 137.03 " stroke="#000" stroke-width="1.75" fill="none"/>
<path d="M662.80 134.95 L662.80 143.25 M659.21 137.03 L666.39 141.17 M659.21 141.17 L666.39 137.03 " stroke="#000" stroke-width="1.75" fill="none"/>
<path d="M634.5 173.0 L634.5 178.60000000000002 M628.5 173.0 L640.5 173.0 M628.5 178.60000000000002 L640.5 178.60000000000002" stroke="#666" stroke-width="0.9" fill="none"/>
<path d="M664.8 213.2 L664.8 216.8 M658.8 213.2 L670.8 213.2 M658.8 216.8 L670.8 216.8" stroke="#666" stroke-width="0.9" fill="none"/>
<circle cx="634.5" cy="160.8" r="1.55" fill="#bdbdbd" stroke="#5a5a5a" stroke-width="0.8"/>
<circle cx="627.9" cy="170.9" r="1.55" fill="#bdbdbd" stroke="#5a5a5a" stroke-width="0.8"/>
<circle cx="634.5" cy="172.6" r="1.55" fill="#bdbdbd" stroke="#5a5a5a" stroke-width="0.8"/>
<circle cx="641.1" cy="169.9" r="1.55" fill="#bdbdbd" stroke="#5a5a5a" stroke-width="0.8"/>
<circle cx="628.3" cy="175.5" r="1.55" fill="#bdbdbd" stroke="#5a5a5a" stroke-width="0.8"/>
<circle cx="640.8" cy="174.6" r="1.55" fill="#bdbdbd" stroke="#5a5a5a" stroke-width="0.8"/>
<circle cx="631.2" cy="180.5" r="1.55" fill="#bdbdbd" stroke="#5a5a5a" stroke-width="0.8"/>
<circle cx="637.8" cy="180.2" r="1.55" fill="#bdbdbd" stroke="#5a5a5a" stroke-width="0.8"/>
<circle cx="637.8" cy="184.1" r="1.55" fill="#bdbdbd" stroke="#5a5a5a" stroke-width="0.8"/>
<circle cx="631.2" cy="185.8" r="1.55" fill="#bdbdbd" stroke="#5a5a5a" stroke-width="0.8"/>
<circle cx="656.2" cy="210.2" r="1.55" fill="#bdbdbd" stroke="#5a5a5a" stroke-width="0.8"/>
<circle cx="661.8" cy="208.8" r="1.55" fill="#bdbdbd" stroke="#5a5a5a" stroke-width="0.8"/>
<circle cx="667.5" cy="208.8" r="1.55" fill="#bdbdbd" stroke="#5a5a5a" stroke-width="0.8"/>
<circle cx="661.8" cy="212.8" r="1.55" fill="#bdbdbd" stroke="#5a5a5a" stroke-width="0.8"/>
<circle cx="656.2" cy="215.7" r="1.55" fill="#bdbdbd" stroke="#5a5a5a" stroke-width="0.8"/>
<circle cx="661.8" cy="216.7" r="1.55" fill="#bdbdbd" stroke="#5a5a5a" stroke-width="0.8"/>
<circle cx="667.5" cy="215.8" r="1.55" fill="#bdbdbd" stroke="#5a5a5a" stroke-width="0.8"/>
<circle cx="673" cy="215.2" r="1.55" fill="#bdbdbd" stroke="#5a5a5a" stroke-width="0.8"/>
<circle cx="661.8" cy="222" r="1.55" fill="#bdbdbd" stroke="#5a5a5a" stroke-width="0.8"/>
<circle cx="667.8" cy="222" r="1.55" fill="#bdbdbd" stroke="#5a5a5a" stroke-width="0.8"/>
</svg>
</body></html>
